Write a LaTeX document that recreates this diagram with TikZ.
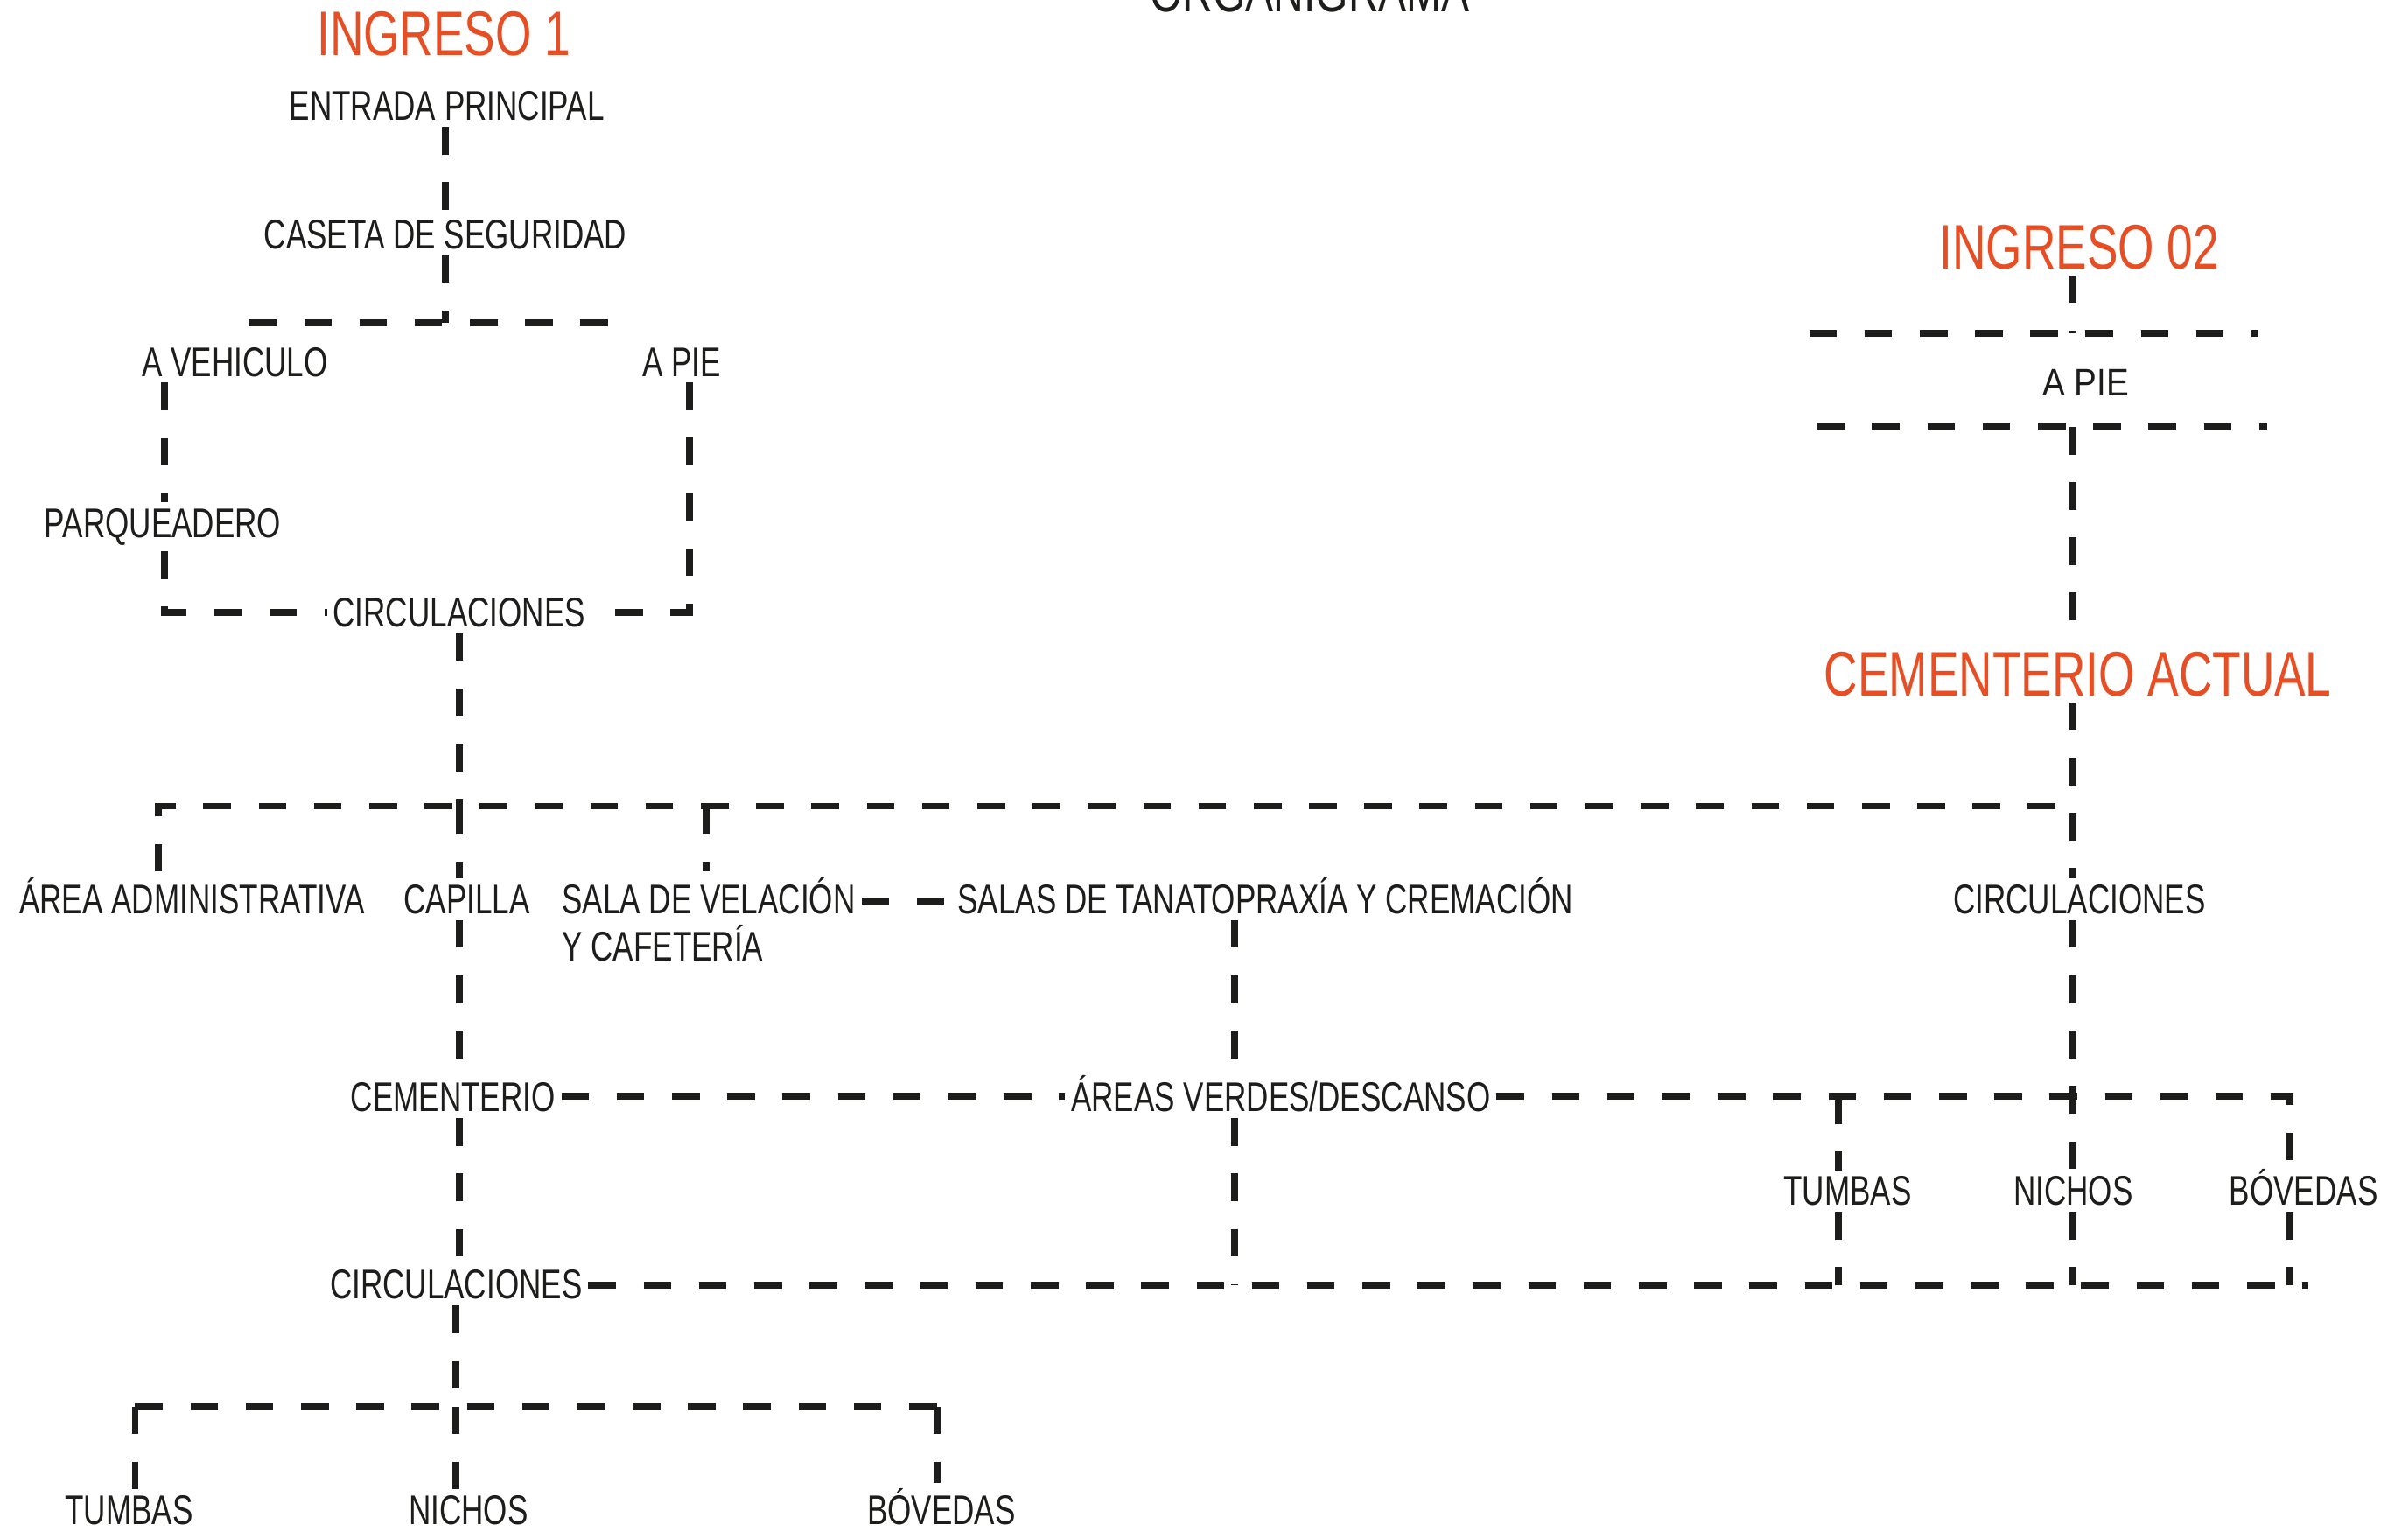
\documentclass[tikz,border=0pt]{standalone}
\usepackage{fontspec}
\setmainfont[FakeStretch=0.74]{Liberation Sans}
\newfontfamily\widefont[FakeStretch=0.88]{Liberation Sans}
\definecolor{ink}{RGB}{29,29,27}
\definecolor{rojo}{RGB}{232,78,36}
\tikzset{
  lbl/.style={inner sep=0pt, outer sep=4pt, anchor=base, text=ink, font=\fontsize{27}{30}\selectfont},
  lblw/.style={lbl, font=\widefont\fontsize{25}{28}\selectfont},
  redlbl/.style={lbl, text=rojo, font=\fontsize{41}{44}\selectfont},
  titlelbl/.style={lbl, font=\fontsize{37}{40}\selectfont},
  dl/.style={draw=ink, line width=4.5pt, dash pattern=on 18pt off 18pt}
}
\begin{document}
\begin{tikzpicture}[x=1pt,y=-1pt]
\useasboundingbox[fill=white] (0,0) rectangle (1568,997);
% nodes
\node[titlelbl] (title) at (853,7.5) {ORGANIGRAMA};
\node[redlbl] (ing1) at (289,36) {INGRESO 1};
\node[lbl] (entrada) at (291,78.5) {ENTRADA PRINCIPAL};
\node[lbl] (caseta) at (290,162) {CASETA DE SEGURIDAD};
\node[lbl] (aveh) at (153,245) {A VEHICULO};
\node[lbl] (apie1) at (444,245) {A PIE};
\node[lbl] (parq) at (106,350) {PARQUEADERO};
\node[lbl] (circ1) at (299,408) {CIRCULACIONES};
\node[redlbl] (ing2) at (1354,175) {INGRESO 02};
\node[lblw] (apie2) at (1358,258) {A PIE};
\node[redlbl] (cemact) at (1353,453) {CEMENTERIO ACTUAL};
\node[lbl] (admin) at (125,595) {ÁREA ADMINISTRATIVA};
\node[lbl] (capilla) at (304,595) {CAPILLA};
\node[lbl, anchor=base west] (sala) at (362,595) {SALA DE VELACIÓN};
\node[lbl, anchor=base west] (salab) at (362,626) {Y CAFETERÍA};
\node[lbl] (salas) at (824,595) {SALAS DE TANATOPRAXÍA Y CREMACIÓN};
\node[lbl] (circ2) at (1354,595) {CIRCULACIONES};
\node[lbl] (cem) at (295,724) {CEMENTERIO};
\node[lbl] (areas) at (834,724) {ÁREAS VERDES/DESCANSO};
\node[lbl] (tum2) at (1203,785) {TUMBAS};
\node[lbl] (nic2) at (1350,785) {NICHOS};
\node[lbl] (bov2) at (1500,785) {BÓVEDAS};
\node[lbl] (circ3) at (297,846) {CIRCULACIONES};
\node[lbl] (tum3) at (84,993) {TUMBAS};
\node[lbl] (nic3) at (305,993) {NICHOS};
\node[lbl] (bov3) at (613,993) {BÓVEDAS};
% junction coordinates
\coordinate (j1) at (290,210);
\coordinate (h1a) at (162,210);
\coordinate (h1b) at (400,210);
\coordinate (xp) at (107,0);
\coordinate (xa) at (449,0);
\coordinate (j2) at (299,525);
\coordinate (h2a) at (103,525);
\coordinate (h2b) at (1350,525);
\coordinate (xv) at (460,525);
\coordinate (h3a) at (1178,217);
\coordinate (h3b) at (1470,217);
\coordinate (h4a) at (1183,278);
\coordinate (h4b) at (1476,278);
\coordinate (j4) at (1350,278);
\coordinate (ys) at (0,587);
\coordinate (xs) at (804,0);
\coordinate (ym) at (0,714);
\coordinate (h5a) at (1197,714);
\coordinate (h5b) at (1491,714);
\coordinate (j5) at (1350,714);
\coordinate (h6b) at (1503,837);
\coordinate (j6) at (804,837);
\coordinate (j7) at (297,916);
\coordinate (h7a) at (88,916);
\coordinate (h7b) at (610,916);
% connectors - left top
\draw[dl] (entrada.south -| j1) -- (caseta.north -| j1);
\draw[dl] (caseta.south -| j1) -- (j1);
\draw[dl] (h1a) -- (h1b);
\draw[dl] (aveh.south -| xp) -- (parq.north -| xp);
\draw[dl] (parq.south -| xp) |- (circ1.west);
\draw[dl] (apie1.south -| xa) |- (circ1.east);
\draw[dl] (circ1.south -| j2) -- (j2);
\draw[dl] (admin.north -| h2a) |- (h2b);
\draw[dl] (j2) -- (capilla.north -| j2);
\draw[dl] (xv) -- (sala.north -| xv);
% right top
\draw[dl] (ing2.south -| j4) -- (j4 |- h3a);
\draw[dl] (h3a) -- (h3b);
\draw[dl] (h4a) -- (h4b);
\draw[dl] (j4) -- (cemact.north -| j4);
\draw[dl] (cemact.south -| j4) -- (circ2.north -| j4);
% middle
\draw[dl] (sala.east |- ys) -- (salas.west |- ys);
\draw[dl] (salas.south -| xs) -- (areas.north -| xs);
\draw[dl] (areas.south -| xs) -- (j6);
\draw[dl] (capilla.south -| j2) -- (cem.north -| j2);
\draw[dl] (cem.south -| j2) -- (circ3.north -| j2);
\draw[dl] (cem.east |- ym) -- (areas.west |- ym);
\draw[dl] (areas.east |- ym) -- (h5b) -- (bov2.north -| h5b);
\draw[dl] (circ2.south -| j5) -- (nic2.north -| j5);
\draw[dl] (h5a) -- (tum2.north -| h5a);
\draw[dl] (tum2.south -| h5a) -- (h5a |- h6b);
\draw[dl] (nic2.south -| j5) -- (j5 |- h6b);
\draw[dl] (bov2.south -| h5b) -- (h5b |- h6b);
\draw[dl] (circ3.east |- h6b) -- (h6b);
% bottom
\draw[dl] (circ3.south -| j7) -- (j7);
\draw[dl] (h7a) -- (h7b);
\draw[dl] (h7a) -- (tum3.north -| h7a);
\draw[dl] (j7) -- (nic3.north -| j7);
\draw[dl] (h7b) -- (bov3.north -| h7b);
\end{tikzpicture}
\end{document}
